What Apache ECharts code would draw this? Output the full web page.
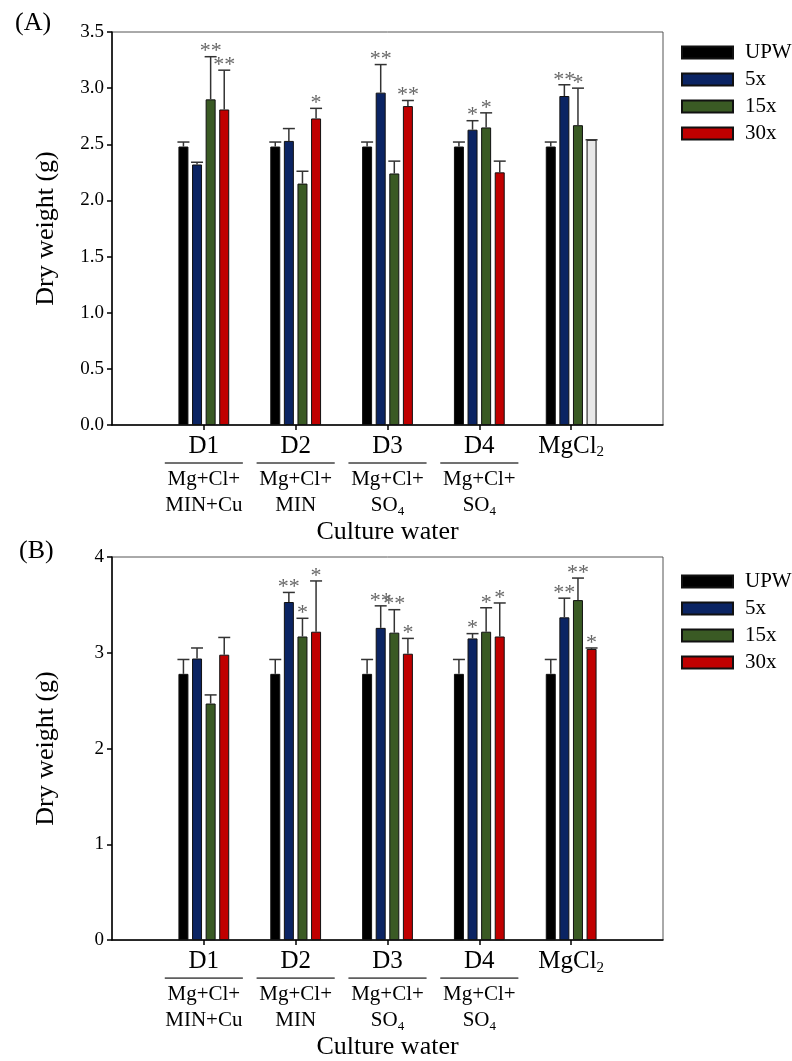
<!DOCTYPE html>
<html>
<head>
<meta charset="utf-8">
<script src="https://cdn.jsdelivr.net/npm/echarts@6/dist/echarts.min.js"></script>
<style>
  html, body { margin: 0; padding: 0; background: #fff; }
  #main { width: 792px; height: 1061px; }
</style>
</head>
<body>
<div id="main"></div>
<script>
// categories (empty slots at both ends keep the groups off the frame)
const categories = ['', 'D1', 'D2', 'D3', 'D4', 'MgCl2', '']
const subLabels = {
  D1: ['Mg+Cl+', 'MIN+Cu'],
  D2: ['Mg+Cl+', 'MIN'],
  D3: ['Mg+Cl+', 'SO4'],
  D4: ['Mg+Cl+', 'SO4']
}
const seriesNames = ['UPW', '5x', '15x', '30x']
const colors = ['#000000', '#0b2463', '#3a5a24', '#c00000']

// panel A, dry weight (g), D1..MgCl2
const aUPW = [2.48, 2.48, 2.48, 2.48, 2.48]
const a5x = [2.32, 2.53, 2.96, 2.63, 2.93]
const a15x = [2.90, 2.15, 2.24, 2.65, 2.67]
const a30x = [2.81, 2.73, 2.84, 2.25, 2.54]
const aUPWErr = [0.04, 0.04, 0.04, 0.04, 0.04]
const a5xErr = [0.02, 0.11, 0.25, 0.08, 0.10]
const a15xErr = [0.38, 0.11, 0.11, 0.13, 0.33]
const a30xErr = [0.35, 0.09, 0.05, 0.10, 0]
const aUPWSig = [0, 0, 0, 0, 0]
const a5xSig = [0, 0, 2, 1, 2]
const a15xSig = [2, 0, 0, 1, 1]
const a30xSig = [2, 1, 2, 0, 0]
const aTicks = [0, 0.5, 1.0, 1.5, 2.0, 2.5, 3.0, 3.5]

// panel B
const bUPW = [2.78, 2.78, 2.78, 2.78, 2.78]
const b5x = [2.94, 3.53, 3.26, 3.15, 3.37]
const b15x = [2.47, 3.17, 3.21, 3.22, 3.55]
const b30x = [2.98, 3.22, 2.99, 3.17, 3.04]
const bUPWErr = [0.15, 0.15, 0.15, 0.15, 0.15]
const b5xErr = [0.11, 0.10, 0.23, 0.05, 0.20]
const b15xErr = [0.09, 0.19, 0.24, 0.25, 0.23]
const b30xErr = [0.18, 0.53, 0.16, 0.35, 0.01]
const bUPWSig = [0, 0, 0, 0, 0]
const b5xSig = [0, 2, 2, 1, 2]
const b15xSig = [0, 1, 2, 1, 2]
const b30xSig = [0, 1, 1, 1, 1]
const bTicks = [0, 1, 2, 3, 4]

const font = 'Liberation Serif'
const BAR_W = 10
const BAR_STEP = 13.6

function labelFormatter(value) {
  if (value === 'MgCl2') return '{d|MgCl}{dsub|2}'
  if (!subLabels[value]) return ''
  let lines = subLabels[value].map(s => {
    if (s === 'SO4') return '{s|SO}{sub|4}'
    return '{s|' + s + '}'
  })
  return '{d|' + value + '}\n{hr|}\n' + lines.join('\n')
}

function xAxisFor(gridIndex, nameGap) {
  return {
    type: 'category',
    gridIndex: gridIndex,
    data: categories,
    boundaryGap: false,
    name: 'Culture water',
    nameLocation: 'middle',
    nameGap: nameGap,
    nameTextStyle: { fontFamily: font, fontSize: 26, color: '#000' },
    axisLine: { lineStyle: { color: '#000', width: 1.5 } },
    axisTick: {
      inside: false, length: 5, lineStyle: { color: '#000', width: 1.5 },
      interval: (idx, val) => val !== ''
    },
    axisLabel: {
      interval: 0,
      margin: 7,
      color: '#000',
      fontFamily: font,
      formatter: labelFormatter,
      rich: {
        d: { fontFamily: font, fontSize: 25, lineHeight: 28, color: '#000' },
        dsub: { fontFamily: font, fontSize: 15, lineHeight: 15, verticalAlign: 'bottom', color: '#000' },
        hr: { width: 78, height: 0, borderColor: '#222', borderWidth: 0.8, lineHeight: 6 },
        s: { fontFamily: font, fontSize: 21, lineHeight: 26, color: '#000' },
        sub: { fontFamily: font, fontSize: 13, lineHeight: 13, verticalAlign: 'bottom', color: '#000' }
      }
    }
  }
}

function yAxisFor(gridIndex, ticks, digits) {
  return {
    type: 'value',
    gridIndex: gridIndex,
    min: ticks[0],
    max: ticks[ticks.length - 1],
    interval: ticks[1] - ticks[0],
    name: 'Dry weight (g)',
    nameLocation: 'middle',
    nameGap: 53,
    nameTextStyle: { fontFamily: font, fontSize: 26, color: '#000' },
    splitLine: { show: false },
    axisLine: { show: true, lineStyle: { color: '#000', width: 1.5 } },
    axisTick: { show: true, length: 5, lineStyle: { color: '#000', width: 1.5 } },
    axisLabel: {
      margin: 8, color: '#000', fontFamily: font, fontSize: 19,
      formatter: v => v.toFixed(digits)
    }
  }
}

function pad(arr) {
  return [null].concat(arr).concat([null])
}

function barSeries(gridIndex, idx, values, grayAt) {
  let data = pad(values).map((v, i) => {
    if (v === null) return '-'
    if (grayAt !== undefined && i - 1 === grayAt) {
      return { value: v, itemStyle: { color: '#e8e8e8' } }
    }
    return v
  })
  return {
    name: seriesNames[idx],
    type: 'bar',
    xAxisIndex: gridIndex,
    yAxisIndex: gridIndex,
    barWidth: BAR_W,
    barGap: '36%',
    itemStyle: { color: colors[idx], borderColor: '#111', borderWidth: 1 },
    emphasis: { disabled: true },
    data: data
  }
}

// error bars + significance stars, drawn from the same values
function errorSeries(gridIndex, means, errs, sigs) {
  let data = []
  means.forEach((vals, s) => {
    vals.forEach((v, i) => {
      data.push([i + 1, v, errs[s][i], s, sigs[s][i]])
    })
  })
  return {
    type: 'custom',
    xAxisIndex: gridIndex,
    yAxisIndex: gridIndex,
    silent: true,
    z: 5,
    data: data,
    renderItem: function (params, api) {
      let cat = api.value(0)
      let mean = api.value(1)
      let err = api.value(2)
      let s = api.value(3)
      let sig = api.value(4)
      let base = api.coord([cat, mean])
      let top = api.coord([cat, mean + err])
      let x = base[0] + (s - 1.5) * BAR_STEP
      let half = BAR_W / 2 + 1
      let children = []
      if (err > 0) {
        children.push({
          type: 'line',
          shape: { x1: x, y1: base[1], x2: x, y2: top[1] },
          style: { stroke: '#333', lineWidth: 1.5 }
        })
      }
      children.push({
        type: 'line',
        shape: { x1: x - half, y1: top[1], x2: x + half, y2: top[1] },
        style: { stroke: '#333', lineWidth: 1.5 }
      })
      if (sig > 0) {
        children.push({
          type: 'text',
          style: {
            text: '*'.repeat(sig),
            x: x, y: top[1] + 6,
            align: 'center', verticalAlign: 'bottom',
            fontFamily: font, fontSize: 22, fill: '#666'
          }
        })
      }
      return { type: 'group', children: children }
    }
  }
}

let myChart = echarts.init(document.getElementById('main'))

let legendCommon = {
  orient: 'vertical',
  left: 676,
  itemWidth: 51,
  itemHeight: 12,
  itemGap: 6,
  icon: 'rect',
  selectedMode: false,
  data: seriesNames,
  textStyle: { fontFamily: font, fontSize: 21, color: '#000', padding: [0, 0, 0, 7] }
}

let option = {
  backgroundColor: '#fff',
  animation: false,
  title: [
    { text: '(A)', left: 10, top: 5, textStyle: { fontFamily: font, fontSize: 26, fontWeight: 'normal', color: '#000' } },
    { text: '(B)', left: 14, top: 533, textStyle: { fontFamily: font, fontSize: 26, fontWeight: 'normal', color: '#000' } }
  ],
  legend: [
    Object.assign({ top: 37 }, legendCommon),
    Object.assign({ top: 566 }, legendCommon)
  ],
  grid: [
    { left: 112, width: 551, top: 32, height: 393, show: true, borderColor: '#555', borderWidth: 1 },
    { left: 112, width: 551, top: 557, height: 394, show: true, borderColor: '#555', borderWidth: 1 }
  ],
  xAxis: [xAxisFor(0, 86), xAxisFor(1, 82)],
  yAxis: [yAxisFor(0, aTicks, 1), yAxisFor(1, bTicks, 0)],
  series: [
    barSeries(0, 0, aUPW),
    barSeries(0, 1, a5x),
    barSeries(0, 2, a15x),
    barSeries(0, 3, a30x, 4),
    errorSeries(0, [aUPW, a5x, a15x, a30x], [aUPWErr, a5xErr, a15xErr, a30xErr], [aUPWSig, a5xSig, a15xSig, a30xSig]),
    barSeries(1, 0, bUPW),
    barSeries(1, 1, b5x),
    barSeries(1, 2, b15x),
    barSeries(1, 3, b30x),
    errorSeries(1, [bUPW, b5x, b15x, b30x], [bUPWErr, b5xErr, b15xErr, b30xErr], [bUPWSig, b5xSig, b15xSig, b30xSig])
  ]
}

myChart.setOption(option)
</script>
</body>
</html>
